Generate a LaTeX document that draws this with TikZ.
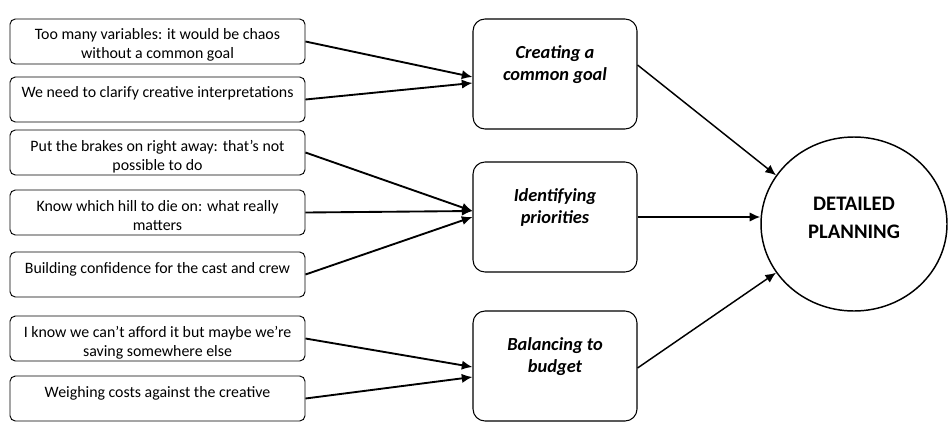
\documentclass[tikz,border=0pt]{standalone}
\usepackage{fontspec}
\setmainfont{Carlito}
\usetikzlibrary{arrows.meta,shapes.geometric}

\tikzset{
  quote/.style={draw, rounded corners=4pt, line width=0.7pt,
    minimum width=221.25pt, minimum height=33.75pt, inner ysep=0pt,
    text height=30pt, text depth=3.75pt, align=center,
    font=\fontsize{11.9}{14.25}\selectfont},
  theme/.style={draw, rounded corners=9pt, line width=0.8pt,
    minimum width=123pt, minimum height=82.5pt, inner ysep=0pt,
    text height=45.75pt, text depth=36.75pt, align=center,
    font=\fontsize{13.8}{16.5}\selectfont\bfseries\itshape},
  goal/.style={draw, ellipse, line width=1.1pt,
    minimum width=139.5pt, minimum height=130.5pt, inner sep=0pt,
    text height=31.5pt, text depth=10.5pt, align=center,
    font=\fontsize{15.5}{21}\selectfont\bfseries},
  arc/.style={-{Latex[length=8pt,width=7pt]}, line width=1.4pt},
  outarc/.style={-{Latex[length=8pt,width=7pt]}, line width=1.1pt}
}

\begin{document}
\begin{tikzpicture}[x=0.75pt, y=-0.75pt]
      \useasboundingbox (0,0) rectangle (952,428);

      % Boxes (quotes)
      \node[quote] (q1) at (157.5,41.5) {Too many variables: it would be chaos\\without a common goal};
      \node[quote] (q2) at (157.5,99.5) {We need to clarify creative interpretations\\ \mbox{}};
      \node[quote] (q3) at (157.5,152.5) {Put the brakes on right away: that’s not\\possible to do};
      \node[quote] (q4) at (157.5,212.5) {Know which hill to die on: what really\\matters};
      \node[quote] (q5) at (157.5,274.5) {Building confidence for the cast and crew\\ \mbox{}};
      \node[quote] (q6) at (157.5,338.5) {I know we can’t afford it but maybe we’re\\saving somewhere else};
      \node[quote] (q7) at (157.5,398.5) {Weighing costs against the creative\\ \mbox{}};

      % Boxes (themes)
      \node[theme] (cg) at (555,74) {Creating a\\common goal};
      \node[theme] (ip) at (555,217) {Identifying\\priorities};
      \node[theme] (bb) at (555,366) {Balancing to\\budget};

      % Circle
      \node[goal] (dp) at (854,224) {DETAILED\\PLANNING};

      % Arcs (quotes to themes)
      \draw[arc] (q1.east) -- ([yshift=-2.25pt]cg.west);
      \draw[arc] (q2.east) -- ([yshift=-6.75pt]cg.west);
      \draw[arc] (q3.east) -- ([yshift=4.5pt]ip.west);
      \draw[arc] (q4.east) -- ([yshift=4.5pt]ip.west);
      \draw[arc] (q5.east) -- (ip.west);
      \draw[arc] (q6.east) -- ([yshift=-0.75pt]bb.west);
      \draw[arc] (q7.east) -- ([yshift=-8.25pt]bb.west);

      % Arcs (themes to planning)
      \draw[outarc] ([yshift=6.75pt]cg.east) -- (dp.148);
      \draw[outarc] (ip.east) -- (ip.east -| dp.west);
      \draw[outarc] ([yshift=-1.5pt]bb.east) -- (dp.212);
    \end{tikzpicture}
\end{document}
